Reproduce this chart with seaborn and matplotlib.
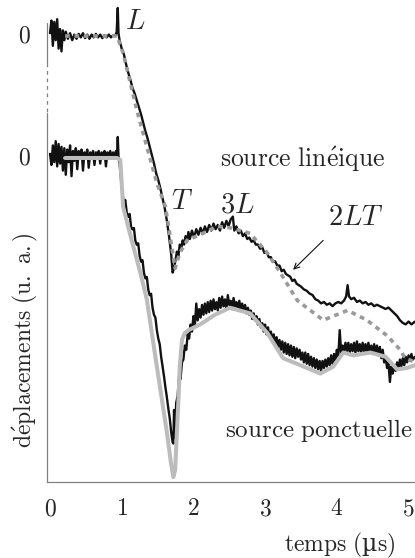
import matplotlib
matplotlib.use("Agg")
import matplotlib.pyplot as plt
import seaborn as sns
import pandas as pd

sns.set_style("white")
plt.rcParams["mathtext.fontset"] = "cm"
plt.rcParams["font.family"] = ["DejaVu Serif"]

# ---------------------------------------------------------------------------
# Time axis (µs) and displacement traces (arbitrary units, each relative to
# its own zero).  Line source on top, point source shifted below.
# ---------------------------------------------------------------------------
offset_line = 0.0
offset_point = -8.714

# line source, measurement
t_line_exp = [
    0.00, 0.02, 0.04, 0.06, 0.08, 0.10, 0.12, 0.14, 0.16, 0.18, 0.20, 0.22, 0.25, 0.28,
    0.31, 0.34, 0.37, 0.40, 0.43, 0.46, 0.49, 0.52, 0.55, 0.58, 0.61, 0.64, 0.67, 0.70,
    0.73, 0.76, 0.79, 0.82, 0.85, 0.88, 0.91, 0.93, 0.945, 0.955, 0.97, 1.00, 1.03, 1.06,
    1.09, 1.12, 1.15, 1.18, 1.21, 1.24, 1.27, 1.30, 1.33, 1.36, 1.39, 1.42, 1.45, 1.48,
    1.51, 1.54, 1.57, 1.60, 1.63, 1.66, 1.69, 1.71, 1.73, 1.75, 1.77, 1.79, 1.81, 1.83,
    1.85, 1.87, 1.89, 1.91, 1.93, 1.95, 1.98, 2.01, 2.04, 2.07, 2.10, 2.13, 2.16, 2.19,
    2.22, 2.25, 2.28, 2.31, 2.34, 2.37, 2.40, 2.43, 2.46, 2.49, 2.52, 2.55, 2.57, 2.60,
    2.63, 2.66, 2.69, 2.72, 2.75, 2.78, 2.81, 2.84, 2.87, 2.90, 2.93, 2.96, 2.99, 3.02,
    3.05, 3.08, 3.11, 3.14, 3.17, 3.20, 3.23, 3.26, 3.29, 3.32, 3.35, 3.38, 3.41, 3.44,
    3.47, 3.50, 3.54, 3.58, 3.62, 3.66, 3.70, 3.74, 3.78, 3.82, 3.86, 3.90, 3.94, 3.98,
    4.02, 4.06, 4.10, 4.13, 4.15, 4.17, 4.20, 4.24, 4.28, 4.32, 4.36, 4.40, 4.44, 4.48,
    4.52, 4.56, 4.60, 4.64, 4.68, 4.72, 4.76, 4.80, 4.84, 4.88, 4.92, 4.96, 5.00, 5.04,
    5.09,
]
u_line_exp = [
    0.2, 1.1, -0.7, 1.0, -0.3, 1.2, -0.9, 0.5, -1.1, 0.4, -0.3, 0.3, -0.2, 0.2,
    -0.3, 0.1, -0.2, 0.15, -0.1, 0.2, -0.15, 0.1, -0.2, 0.1, -0.1, 0.15, -0.1, 0.1,
    -0.15, 0.05, -0.1, 0.1, -0.1, 0.05, 0.0, 0.3, 2.0, 0.2, -0.3, -0.9, -1.3, -2.0,
    -2.6, -3.1, -3.7, -4.1, -4.6, -5.1, -5.6, -6.2, -6.8, -7.3, -7.9, -8.5, -9.1, -9.8,
    -10.3, -10.9, -11.6, -12.3, -13.2, -14.3, -15.6, -16.9, -16.6, -16.0, -15.4, -15.7, -14.9, -15.2,
    -14.6, -14.9, -14.3, -14.7, -14.0, -14.5, -13.9, -14.4, -13.8, -14.2, -13.7, -14.1, -13.6, -14.0,
    -13.5, -13.9, -13.4, -13.8, -13.5, -13.9, -13.3, -13.7, -13.2, -13.6, -13.1, -12.9, -13.9, -13.6,
    -14.1, -13.9, -14.3, -14.1, -14.5, -14.4, -14.7, -14.6, -14.9, -14.9, -15.2, -15.1, -15.5, -15.4,
    -15.8, -15.8, -16.1, -16.1, -16.4, -16.4, -16.8, -16.7, -17.0, -17.1, -17.2, -17.5, -17.4, -17.7,
    -17.8, -17.9, -18.1, -18.2, -18.4, -18.5, -18.8, -18.9, -19.1, -19.0, -19.2, -19.1, -19.3, -19.1,
    -19.0, -19.1, -18.9, -18.6, -17.8, -18.6, -18.8, -18.7, -19.0, -18.9, -19.1, -19.0, -19.2, -19.1,
    -19.3, -19.2, -19.3, -19.4, -19.5, -19.4, -19.6, -19.8, -20.0, -20.3, -20.5, -20.6, -20.4, -20.6,
    -20.4,
]

# line source, model
t_line_model = [0.21, 0.935, 1.02, 1.21, 1.49, 1.61, 1.745, 1.81, 1.91, 2.09, 2.33, 2.51,
                2.79, 3.03, 3.21, 3.45, 3.81, 4.15, 4.42, 4.70, 4.88, 4.95, 5.09]
u_line_model = [0.0, 0.0, -1.21, -5.29, -10.5, -12.2, -16.6, -15.5, -14.6, -14.2, -13.6, -13.7,
                -14.1, -15.5, -16.9, -18.9, -20.3, -19.6, -20.3, -21.4, -22.4, -23.0, -23.3]

# point source, measurement
t_point_exp = [
    0.00, 0.02, 0.04, 0.06, 0.08, 0.10, 0.12, 0.14, 0.16, 0.18, 0.20, 0.22, 0.24, 0.26,
    0.28, 0.30, 0.32, 0.34, 0.36, 0.38, 0.40, 0.42, 0.44, 0.46, 0.48, 0.50, 0.52, 0.54,
    0.56, 0.58, 0.60, 0.62, 0.64, 0.66, 0.68, 0.70, 0.72, 0.74, 0.76, 0.78, 0.80, 0.82,
    0.84, 0.86, 0.88, 0.90, 0.92, 0.935, 0.945, 0.955, 0.97, 0.99, 1.01, 1.03, 1.05, 1.07,
    1.09, 1.11, 1.13, 1.15, 1.17, 1.19, 1.21, 1.23, 1.25, 1.27, 1.29, 1.31, 1.33, 1.35,
    1.37, 1.39, 1.41, 1.43, 1.45, 1.47, 1.49, 1.51, 1.53, 1.55, 1.57, 1.59, 1.61, 1.63,
    1.65, 1.67, 1.69, 1.71, 1.72, 1.73, 1.74, 1.76, 1.78, 1.80, 1.82, 1.84, 1.86, 1.88,
    1.90, 1.92, 1.94, 1.96, 1.98, 2.00, 2.02, 2.04, 2.06, 2.08, 2.10, 2.12, 2.14, 2.16,
    2.18, 2.20, 2.22, 2.24, 2.26, 2.28, 2.30, 2.32, 2.34, 2.36, 2.38, 2.40, 2.42, 2.44,
    2.46, 2.48, 2.50, 2.52, 2.54, 2.56, 2.58, 2.60, 2.62, 2.64, 2.66, 2.68, 2.70, 2.72,
    2.74, 2.76, 2.78, 2.80, 2.82, 2.84, 2.86, 2.88, 2.90, 2.92, 2.94, 2.96, 2.98, 3.00,
    3.02, 3.04, 3.06, 3.08, 3.10, 3.12, 3.14, 3.16, 3.18, 3.20, 3.22, 3.24, 3.26, 3.28,
    3.30, 3.32, 3.34, 3.36, 3.38, 3.40, 3.42, 3.44, 3.46, 3.48, 3.50, 3.52, 3.54, 3.56,
    3.58, 3.60, 3.62, 3.64, 3.66, 3.68, 3.70, 3.72, 3.74, 3.76, 3.78, 3.80, 3.82, 3.84,
    3.86, 3.88, 3.90, 3.92, 3.94, 3.96, 3.98, 4.00, 4.02, 4.04, 4.06, 4.08, 4.10, 4.12,
    4.14, 4.16, 4.18, 4.20, 4.22, 4.24, 4.26, 4.28, 4.30, 4.32, 4.34, 4.36, 4.38, 4.40,
    4.42, 4.44, 4.46, 4.48, 4.50, 4.52, 4.54, 4.56, 4.58, 4.60, 4.62, 4.64, 4.66, 4.68,
    4.70, 4.72, 4.74, 4.76, 4.78, 4.80, 4.82, 4.84, 4.86, 4.88, 4.90, 4.92, 4.94, 4.96,
    4.98, 5.00, 5.02, 5.04, 5.06, 5.09,
]
u_point_exp = [
    0.3, -0.5, 0.9, -0.3, 1.2, -0.6, 1.0, -0.4, 0.8, -0.9, 0.7, -1.2, 0.6, -0.3,
    0.9, -1.3, 0.5, -0.2, 0.7, -0.8, 0.5, 0.0, 0.6, -0.9, 0.4, 0.1, 0.6, -0.7,
    0.4, 0.0, 0.5, -0.5, 0.4, 0.1, 0.5, -0.4, 0.4, 0.1, 0.5, -0.6, 0.4, 0.1,
    0.5, 0.0, 0.4, 0.1, 0.5, 0.2, 1.5, 0.1, -0.4, -1.5, -2.5, -3.2, -3.0, -3.9,
    -4.2, -4.0, -4.9, -5.1, -5.0, -5.9, -6.2, -6.1, -7.0, -7.4, -7.3, -8.2, -8.6, -8.5,
    -9.4, -9.8, -9.7, -10.7, -11.2, -11.4, -12.3, -12.9, -13.3, -14.2, -14.9, -15.6, -16.4, -17.1,
    -17.9, -18.6, -19.6, -20.3, -20.4, -18.0, -20.0, -17.5, -17.0, -15.6, -15.8, -14.6, -14.4, -13.4,
    -13.7, -12.6, -12.9, -11.9, -12.4, -11.3, -12.0, -10.4, -11.6, -10.8, -11.4, -10.5, -11.2, -10.4,
    -11.1, -10.3, -11.0, -10.2, -10.9, -10.1, -10.8, -10.3, -10.9, -10.0, -10.7, -9.9, -10.6, -10.1,
    -10.8, -9.8, -10.5, -10.2, -10.8, -10.0, -10.6, -10.3, -10.9, -10.2, -10.8, -10.4, -11.0, -10.5,
    -11.1, -10.7, -11.2, -10.9, -11.5, -11.1, -11.6, -11.3, -11.9, -11.5, -12.1, -11.8, -12.4, -11.9,
    -12.6, -12.1, -12.8, -12.4, -13.0, -12.6, -13.3, -12.8, -13.5, -13.0, -13.7, -13.1, -13.9, -13.2,
    -14.0, -13.3, -14.1, -13.4, -14.2, -13.5, -14.3, -13.6, -14.2, -13.7, -14.4, -13.9, -14.6, -13.9,
    -14.7, -14.0, -14.8, -14.2, -14.9, -14.3, -15.0, -14.4, -15.1, -14.5, -15.2, -14.5, -15.0, -14.4,
    -14.9, -14.3, -14.8, -14.1, -14.7, -14.0, -14.5, -13.7, -14.2, -12.3, -13.9, -13.4, -13.8, -13.2,
    -13.8, -13.2, -13.9, -13.3, -13.8, -13.2, -13.9, -13.1, -13.8, -13.3, -13.9, -13.2, -13.8, -13.3,
    -13.9, -13.2, -13.9, -13.4, -14.0, -13.3, -13.9, -13.4, -14.1, -13.5, -14.3, -13.7, -14.6, -14.2,
    -15.0, -14.6, -16.0, -14.9, -15.4, -14.8, -15.2, -14.6, -15.0, -14.4, -14.9, -14.3, -14.8, -14.2,
    -14.6, -14.1, -14.5, -14.0, -14.4, -14.2,
]

# point source, model
t_point_model = [0.21, 0.935, 0.98, 1.02, 1.16, 1.26, 1.35, 1.49, 1.63, 1.69, 1.72, 1.745,
                 1.79, 1.81, 1.84, 1.88, 1.93, 2.09, 2.30, 2.51, 2.79, 3.03, 3.25, 3.49,
                 3.77, 3.95, 4.09, 4.23, 4.47, 4.68, 4.84, 4.98, 5.09]
u_point_model = [0.0, 0.0, -0.14, -3.5, -6.3, -8.2, -10.1, -14.9, -19.6, -21.9, -22.8, -22.3,
                 -17.4, -14.9, -13.0, -12.5, -12.3, -11.9, -11.2, -10.7, -11.1, -12.5, -14.3, -14.8,
                 -15.4, -14.9, -13.9, -14.1, -13.9, -14.2, -15.1, -15.0, -14.8]

x_ticks = [0, 1, 2, 3, 4, 5]
y_ticks = [-10, -20, -30]

# ---------------------------------------------------------------------------
fig = plt.figure(figsize=(4.15, 5.58), dpi=100)
ax = fig.add_axes([46.7 / 415, 76 / 558, 1 - 46.7 / 415, 1 - 76 / 558])

black = "#111111"
spine_grey = "#808080"


def frame(t, u, off):
    return pd.DataFrame({"t": t, "y": [v + off for v in u]})


sns.lineplot(data=frame(t_line_exp, u_line_exp, offset_line), x="t", y="y", ax=ax,
             color=black, lw=1.7, estimator=None, sort=False, zorder=2)
sns.lineplot(data=frame(t_point_exp, u_point_exp, offset_point), x="t", y="y", ax=ax,
             color=black, lw=1.7, estimator=None, sort=False, zorder=2)
sns.lineplot(data=frame(t_line_model, u_line_model, offset_line), x="t", y="y", ax=ax,
             color="#9a9a9a", lw=2.6, estimator=None, sort=False, zorder=3,
             linestyle=(0, (1.3, 1.3)))
sns.lineplot(data=frame(t_point_model, u_point_model, offset_point), x="t", y="y", ax=ax,
             color="#bcbcbc", lw=2.9, estimator=None, sort=False, zorder=3,
             solid_capstyle="round", solid_joinstyle="round")

ax.set_xlim(-0.046, 5.09)
ax.set_ylim(-31.86, 2.571)
ax.set_xlabel("")
ax.set_ylabel("")

for side in ("top", "right", "left"):
    ax.spines[side].set_visible(False)
ax.spines["bottom"].set_color(spine_grey)
ax.spines["bottom"].set_linewidth(0.9)

# broken left axis: solid / dashed / solid
ytr = ax.get_yaxis_transform()
ax.plot([0, 0], [0.93, -1.93], transform=ytr, color=spine_grey, lw=0.9, clip_on=False)
ax.plot([0, 0], [-1.93, -5.5], transform=ytr, color=spine_grey, lw=0.9, clip_on=False,
        linestyle=(0, (3, 3)))
ax.plot([0, 0], [-5.5, -31.86], transform=ytr, color=spine_grey, lw=0.9, clip_on=False)

fs = 17
ax.set_xticks(x_ticks)
ax.set_xticklabels([f"${v}$" for v in x_ticks], fontsize=fs)
ax.set_yticks(y_ticks)
ax.set_yticklabels([])
ax.tick_params(axis="x", direction="in", length=5, width=0.9, color=spine_grey, pad=11)
ax.tick_params(axis="y", direction="in", length=5, width=0.9, color=spine_grey)

# zero labels of the two shifted traces
for off in (offset_line, offset_point):
    ax.text(-0.363, off, "$0$", fontsize=fs, ha="center", va="center", clip_on=False)

# wave arrival labels
lab = 20.5
ax.text(1.19, 1.0, "$L$", fontsize=lab, ha="center", va="center")
ax.text(1.84, -11.8, "$T$", fontsize=lab, ha="center", va="center")
ax.text(2.61, -12.1, "$3L$", fontsize=lab, ha="center", va="center")
ax.text(4.26, -13.0, "$2LT$", fontsize=lab, ha="center", va="center")
ax.annotate("", xy=(3.39, -16.7), xytext=(3.81, -14.6),
            arrowprops=dict(arrowstyle="->", color=black, lw=0.8, shrinkA=0, shrinkB=0))

ax.text(2.37, -9.36, r"$\mathrm{source\ lin\acute{e}ique}$", fontsize=18.5, ha="left",
        va="baseline")
ax.text(2.44, -28.64, r"$\mathrm{source\ ponctuelle}$", fontsize=18, ha="left",
        va="baseline", clip_on=False)

fig.text(340 / 415, 1 - 545 / 558, "$\\mathrm{temps\\ (}$µ$\\mathrm{s)}$", fontsize=fs,
         ha="center", va="center")
fig.text(25 / 415, 1 - 340 / 558, r"$\mathrm{d\acute{e}placements\ (u.\ a.)}$",
         fontsize=fs, ha="center", va="center", rotation=90)

fig.savefig("out.png", dpi=100)
